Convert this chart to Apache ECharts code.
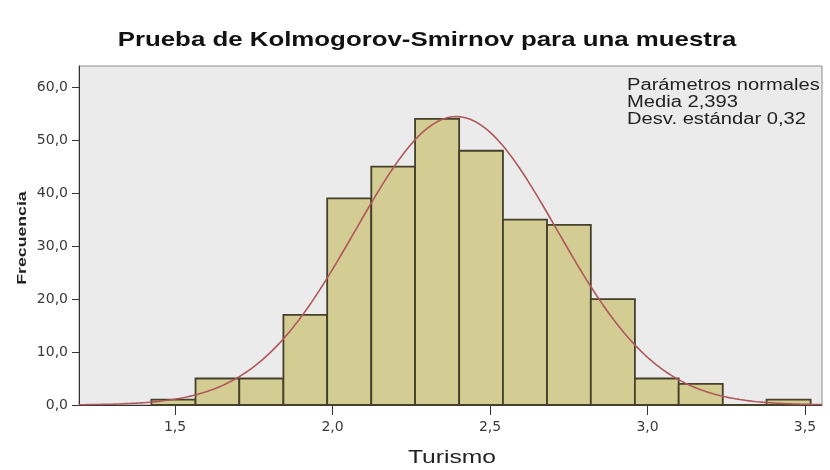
<!DOCTYPE html>
<html>
<head>
<meta charset="utf-8">
<script src="https://cdn.jsdelivr.net/npm/echarts@6/dist/echarts.min.js"></script>
<style>
  html, body { margin: 0; padding: 0; background: #ffffff; }
  #chart { width: 830px; height: 470px; }
</style>
</head>
<body>
<div id="chart"></div>
<script>
// Histogram bin edges (Turismo) and frequency per bin
const binEdges = [1.425, 1.565, 1.704, 1.844, 1.983, 2.123, 2.262, 2.402,
                  2.541, 2.681, 2.820, 2.960, 3.099, 3.239, 3.378, 3.518];
const frequencies = [1, 5, 5, 17, 39, 45, 54, 48, 35, 34, 20, 5, 4, 0, 1];

// Normal-curve parameters shown in the annotation
const normalMean = 2.393;
const normalSd = 0.32;

// Axis tick labels
const xTicks = [1.5, 2.0, 2.5, 3.0, 3.5];
const yTicks = [0, 10, 20, 30, 40, 50, 60];

const titleText = 'Prueba de Kolmogorov-Smirnov para una muestra';
const xName = 'Turismo';
const yName = 'Frecuencia';
const noteText = 'Parámetros normales\nMedia ' + String(normalMean).replace('.', ',') +
                 '\nDesv. estándar ' + String(normalSd).replace('.', ',');

const fmt = (v, d) => v.toFixed(d).replace('.', ',');
const SANS = 'Liberation Sans, Arial, sans-serif';
const WIDE = 'DejaVu Sans, Verdana, sans-serif';

// Bars as [lowerEdge, upperEdge, count]
const barData = frequencies.map((f, i) => [binEdges[i], binEdges[i + 1], f]);

// Expected frequency curve for N observations with the histogram's bin width
const totalN = frequencies.reduce((a, b) => a + b, 0);
const binWidth = (binEdges[binEdges.length - 1] - binEdges[0]) / frequencies.length;
const xMin = 1.195, xMax = 3.554;
const curve = [];
for (let k = 0; k <= 300; k++) {
  const x = xMin + (xMax - xMin) * k / 300;
  const z = (x - normalMean) / normalSd;
  const y = totalN * binWidth * Math.exp(-0.5 * z * z) / (normalSd * Math.sqrt(2 * Math.PI));
  curve.push([x, y]);
}

const chart = echarts.init(document.getElementById('chart'), null, { renderer: 'canvas' });
chart.setOption({
  animation: false,
  backgroundColor: '#ffffff',
  grid: {
    left: 79, top: 66, right: 8, bottom: 65,
    show: true, backgroundColor: '#ebebeb', borderColor: '#8c8c8c', borderWidth: 1
  },
  graphic: [
    { // chart title, drawn slightly widened
      type: 'text', x: 427, y: 40, scaleX: 1.23, z: 10,
      style: { text: titleText, align: 'center', verticalAlign: 'middle',
               font: 'bold 21px ' + SANS, fill: '#111' }
    },
    { // normal parameters note
      type: 'text', x: 627, y: 77, scaleX: 1.26, z: 10,
      style: { text: noteText, align: 'left', verticalAlign: 'top',
               font: '16px ' + SANS, lineHeight: 17, fill: '#222' }
    },
    { // x-axis title
      type: 'text', x: 452, y: 458, scaleX: 1.37, z: 10,
      style: { text: xName, align: 'center', verticalAlign: 'middle',
               font: '18px ' + SANS, fill: '#222' }
    },
    { // y-axis title
      type: 'text', x: 22, y: 238, rotation: Math.PI / 2, scaleX: 1.36, z: 10,
      style: { text: yName, align: 'center', verticalAlign: 'middle',
               font: 'bold 13px ' + SANS, fill: '#222' }
    }
  ],
  xAxis: {
    type: 'value', min: xMin, max: xMax,
    axisLine: { show: true, lineStyle: { color: '#333', width: 1 } },
    axisTick: { show: true, length: 10, customValues: xTicks, lineStyle: { color: '#333' } },
    axisLabel: {
      customValues: xTicks, margin: 15, formatter: v => fmt(v, 1),
      fontFamily: WIDE, fontSize: 14, color: '#3a3a3a'
    },
    splitLine: { show: false }
  },
  yAxis: {
    type: 'value', min: 0, max: 64,
    axisLine: { show: true, lineStyle: { color: '#333', width: 1 } },
    axisTick: { show: true, length: 7, customValues: yTicks, lineStyle: { color: '#333' } },
    axisLabel: {
      customValues: yTicks, margin: 11, formatter: v => fmt(v, 1),
      fontFamily: WIDE, fontSize: 14, color: '#3a3a3a'
    },
    splitLine: { show: false }
  },
  series: [
    {
      type: 'custom',
      data: barData,
      encode: { x: [0, 1], y: 2 },
      renderItem: function (params, api) {
        const p0 = api.coord([api.value(0), 0]);
        const p1 = api.coord([api.value(1), api.value(2)]);
        return {
          type: 'rect',
          shape: { x: p0[0], y: p1[1], width: p1[0] - p0[0], height: p0[1] - p1[1] },
          style: { fill: '#d4cd93', stroke: '#44402c', lineWidth: 1.8 }
        };
      },
      z: 2
    },
    {
      type: 'line', data: curve, showSymbol: false, smooth: false,
      lineStyle: { color: '#b0575b', width: 1.6 }, z: 3
    }
  ]
});
</script>
</body>
</html>
